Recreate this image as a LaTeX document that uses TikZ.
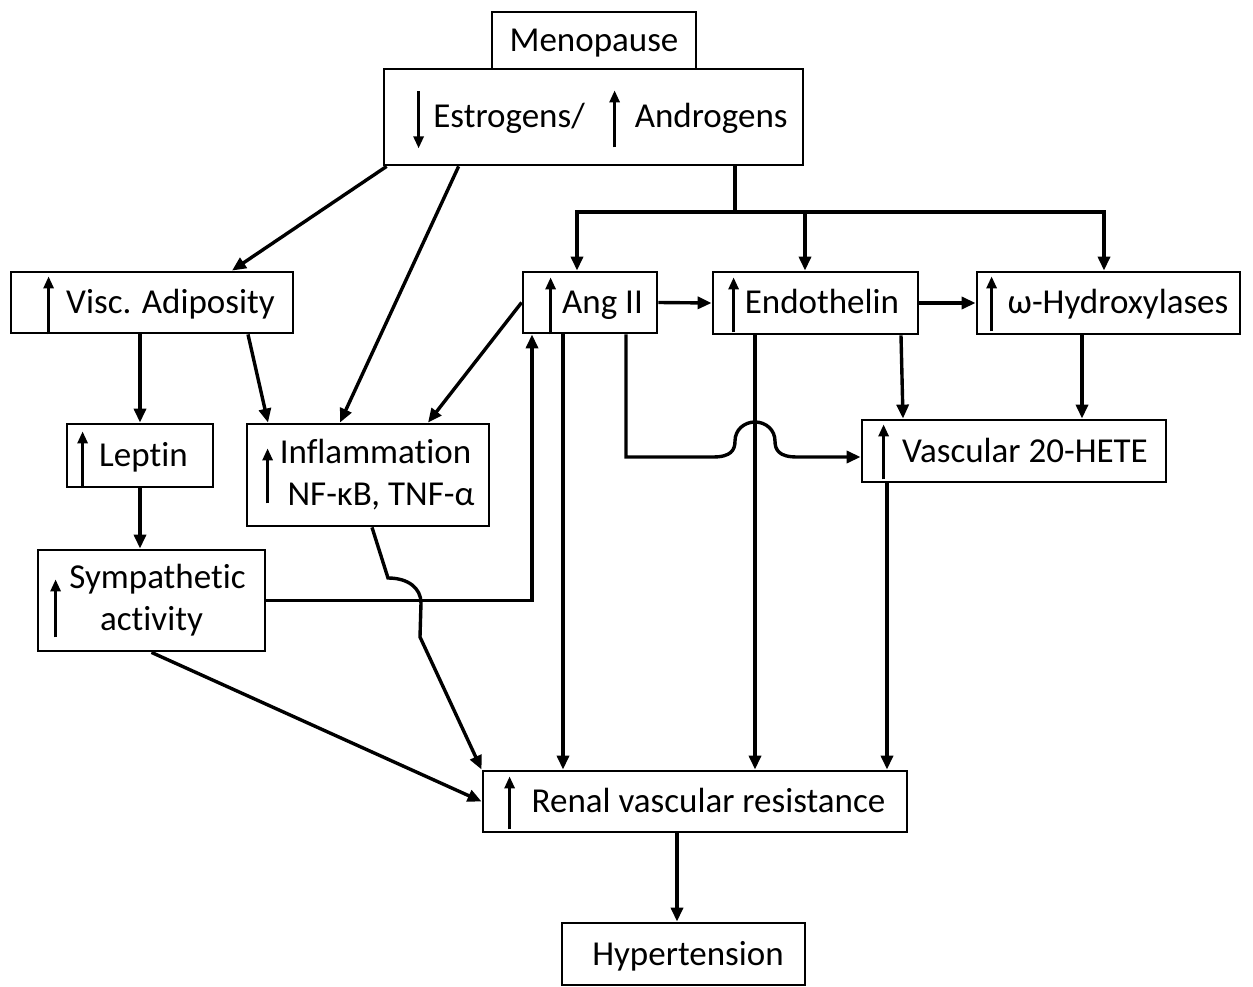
\documentclass[tikz,border=0pt]{standalone}
\usepackage{fontspec}
\setmainfont{Carlito}[Ligatures=NoCommon]
\usetikzlibrary{arrows.meta}
\begin{document}
\begin{tikzpicture}[x=1pt,y=-1pt,
  >={Triangle[length=14pt,width=12pt]},
  box/.style={draw,line width=2.8pt,inner sep=0pt,
    font=\fontsize{35}{42}\selectfont},
  one/.style={text height=27pt,text depth=5pt},
  conn/.style={line width=3.4pt,->},
  inarr/.style={line width=2.8pt,-{Triangle[length=12pt,width=10pt]}}]
\path[fill=white] (0,0) rectangle (1253,986);
% boxes
\node[box,one,minimum width=204pt,minimum height=57pt] (meno) at (594,40.5) {Menopause};
\node[box,one,minimum width=419pt,minimum height=96pt] (estr) at (593.5,117) {\hspace*{34pt}Estrogens/\hspace*{50pt}Androgens};
\node[box,one,minimum width=282pt,minimum height=61pt] (visc) at (152,302.5) {\hspace*{37pt}Visc. Adiposity};
\node[box,one,minimum width=146pt,minimum height=63pt] (leptin) at (140,455.5) {\hspace*{7pt}Leptin};
\node[box,minimum width=227pt,minimum height=101pt,align=center] (symp) at (151.5,600.5) {\hspace*{12pt}Sympathetic\\activity};
\node[box,minimum width=242pt,minimum height=102pt,align=center] (infl) at (368,475) {\hspace*{15pt}Inflammation\\\hspace*{26pt}NF-κB, TNF-α};
\node[box,one,minimum width=134pt,minimum height=61pt] (angii) at (590,302.5) {\hspace*{25pt}Ang II};
\node[box,one,minimum width=205pt,minimum height=62pt] (endo) at (815.5,303) {\hspace*{13pt}Endothelin};
\node[box,one,minimum width=263pt,minimum height=62pt] (hydrox) at (1108.5,303) {\hspace*{19pt}ω-Hydroxylases};
\node[box,one,minimum width=304pt,minimum height=62pt] (vasc) at (1014,451) {\hspace*{22pt}Vascular 20-HETE};
\node[box,one,minimum width=424pt,minimum height=61pt] (renal) at (695,801.5) {\hspace*{27pt}Renal vascular resistance};
\node[box,one,minimum width=243pt,minimum height=62pt] (hyp) at (683.5,954) {\hspace*{9pt}Hypertension};
% arrows inside the boxes
\draw[inarr] ([xshift=36pt,yshift=75pt]estr.south west) -- ++(0,57);
\draw[inarr] ([xshift=232pt,yshift=19pt]estr.south west) -- ++(0,-57);
\draw[inarr] ([xshift=39pt]visc.south west) -- ++(0,-58);
\draw[inarr] ([xshift=17pt]leptin.south west) -- ++(0,-57);
\draw[inarr] ([xshift=19pt,yshift=15pt]symp.south west) -- ++(0,-58);
\draw[inarr] ([xshift=22pt,yshift=24pt]infl.south west) -- ++(0,-55);
\draw[inarr] ([xshift=29pt]angii.south west) -- ++(0,-57);
\draw[inarr] ([xshift=22pt,yshift=3pt]endo.south west) -- ++(0,-55);
\draw[inarr] ([xshift=16pt,yshift=4pt]hydrox.south west) -- ++(0,-55);
\draw[inarr] ([xshift=23pt,yshift=4pt]vasc.south west) -- ++(0,-55);
\draw[inarr] ([xshift=28pt,yshift=4pt]renal.south west) -- ++(0,-53);
% connectors
\coordinate (bus) at (735,212);
\coordinate (b1) at (577,212);
\coordinate (b2) at (805,212);
\coordinate (b3) at (1104,212);
\draw[conn,-] (bus |- estr.south) -- (bus);
\draw[conn,<->] (b1 |- angii.north) -- (b1) -- (b3) -- (b3 |- hydrox.north);
\draw[conn] (b2) -- (b2 |- endo.north);
\draw[conn] ([xshift=4pt]estr.south west) -- ([xshift=80pt]visc.north);
\draw[conn] ([xshift=76pt]estr.south west) -- ([xshift=-28pt]infl.north);
\draw[conn] (angii.east) -- (endo.west);
\draw[conn] (endo.east) -- (hydrox.west);
\draw[conn] (angii.west) -- ([xshift=60pt]infl.north);
\draw[conn] ([xshift=-12pt]visc.south) -- (leptin.north);
\draw[conn] ([xshift=96pt]visc.south) -- ([xshift=-100pt]infl.north);
\draw[conn] (leptin.south) -- ([xshift=-11.5pt]symp.north);
\draw[conn] (symp.east) -| ([xshift=-58pt]angii.south);
\draw[conn] ([xshift=-27pt]angii.south) -- ([xshift=-132pt]renal.north);
\draw[conn] ([xshift=36pt]angii.south) -- (626,457) -- (713,457)
  .. controls (731,457) and (735,450) .. (735,441)
  .. controls (735,430) and (744,422) .. (755,422)
  .. controls (766,422) and (775,430) .. (775,441)
  .. controls (775,450) and (779,457) .. (797,457) -- ([yshift=-6pt]vasc.west);
\draw[conn] ([xshift=-60.5pt]endo.south) -- ([xshift=60pt]renal.north);
\draw[conn] ([xshift=85.5pt]endo.south) -- ([xshift=-111pt]vasc.north);
\draw[conn] ([xshift=-26.5pt]hydrox.south) -- ([xshift=68pt]vasc.north);
\draw[conn] ([xshift=-127pt]vasc.south) -- ([xshift=192pt]renal.north);
\draw[conn] ([xshift=4pt]infl.south) -- (388,578)
  .. controls (408,578) and (421,588) .. (421,603) -- (420,637) -- (renal.north west);
\draw[conn] (symp.south) -- (renal.west);
\draw[conn] ([xshift=-18pt]renal.south) -- ([xshift=-6.5pt]hyp.north);
\end{tikzpicture}
\end{document}
